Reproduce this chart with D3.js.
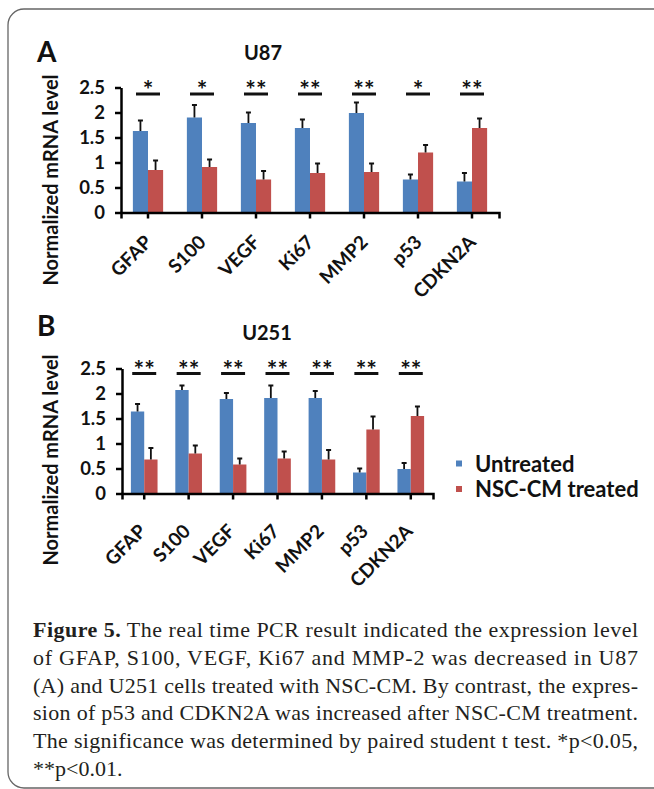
<!DOCTYPE html>
<html>
<head>
<meta charset="utf-8">
<script src="https://cdn.jsdelivr.net/npm/d3@7"></script>
<style>
  body { margin: 0; background: #fff; }
  svg { display: block; }
  .axis text { font-family: Lato, "Open Sans", sans-serif; font-weight: bold; fill: #111; }
</style>
</head>
<body>
<div id="chart"></div>
<script>
// genes on the x axis
const genes = ["GFAP", "S100", "VEGF", "Ki67", "MMP2", "p53", "CDKN2A"];
const series = ["Untreated", "NSC-CM treated"];
const colors = ["#4F81BD", "#C0504D"];
const yTicks = [0, 0.5, 1, 1.5, 2, 2.5];

// U87 (panel A)
const u87Untreated = [1.63, 1.90, 1.79, 1.69, 1.99, 0.66, 0.62];
const u87UntreatedErr = [0.21, 0.25, 0.21, 0.17, 0.21, 0.10, 0.17];
const u87Treated = [0.85, 0.91, 0.66, 0.79, 0.81, 1.20, 1.69];
const u87TreatedErr = [0.19, 0.15, 0.17, 0.19, 0.17, 0.15, 0.19];
const u87Sig = ["*", "*", "**", "**", "**", "*", "**"];

// U251 (panel B)
const u251Untreated = [1.64, 2.07, 1.89, 1.91, 1.91, 0.42, 0.49];
const u251UntreatedErr = [0.15, 0.09, 0.12, 0.25, 0.14, 0.08, 0.12];
const u251Treated = [0.68, 0.80, 0.58, 0.70, 0.68, 1.28, 1.55];
const u251TreatedErr = [0.23, 0.16, 0.12, 0.14, 0.19, 0.26, 0.19];
const u251Sig = ["**", "**", "**", "**", "**", "**", "**"];

const caption = [
  ["Figure 5.", " The real time PCR result indicated the expression level"],
  ["", "of GFAP, S100, VEGF, Ki67 and MMP-2 was decreased in U87"],
  ["", "(A) and U251 cells treated with NSC-CM. By contrast, the expres-"],
  ["", "sion of p53 and CDKN2A was increased after NSC-CM treatment."],
  ["", "The significance was determined by paired student t test. *p<0.05,"],
  ["", "**p<0.01."]
];

const W = 654, H = 789;
const svg = d3.select("#chart").append("svg").attr("width", W).attr("height", H);

// rounded frame round the figure
svg.append("rect")
  .attr("x", 8).attr("y", 9).attr("width", 700).attr("height", 779)
  .attr("rx", 16)
  .attr("fill", "none").attr("stroke", "#666").attr("stroke-width", 1.3);

function drawPanel(o) {
  const x = d3.scaleBand().domain(genes).range(o.xRange);
  const xs = d3.scaleBand().domain(series)
    .range([x.bandwidth() * o.inner[0], x.bandwidth() * o.inner[1]]);
  const y = d3.scaleLinear().domain([0, 2.5]).range(o.yRange);

  const g = svg.append("g");
  const rows = genes.map((gene, i) => ({
    gene,
    vals: [
      { s: series[0], v: o.untreated[i], e: o.untreatedErr[i] },
      { s: series[1], v: o.treated[i], e: o.treatedErr[i] }
    ],
    sig: o.sig[i]
  }));

  const grp = g.selectAll(".grp").data(rows).join("g")
    .attr("transform", d => `translate(${x(d.gene)},0)`);

  grp.selectAll("rect").data(d => d.vals).join("rect")
    .attr("x", d => xs(d.s))
    .attr("width", xs.bandwidth())
    .attr("y", d => y(d.v))
    .attr("height", d => y(0) - y(d.v))
    .attr("fill", (d, i) => colors[i]);

  // error bars (upper only)
  grp.selectAll("path.err").data(d => d.vals).join("path")
    .attr("class", "err")
    .attr("d", d => {
      const cx = xs(d.s) + xs.bandwidth() / 2;
      return `M${cx},${y(d.v)}V${y(d.v + d.e)}M${cx - 2.5},${y(d.v + d.e)}H${cx + 2.5}`;
    })
    .attr("stroke", "#111").attr("stroke-width", 1.8).attr("fill", "none");

  // significance marks
  const bw = x.bandwidth();
  grp.append("line")
    .attr("x1", bw / 2 - 12).attr("x2", bw / 2 + 12)
    .attr("y1", y(o.sigLevel)).attr("y2", y(o.sigLevel))
    .attr("stroke", "#111").attr("stroke-width", 3);
  grp.append("text")
    .attr("x", bw / 2).attr("y", y(o.sigLevel) + 5)
    .attr("text-anchor", "middle")
    .style("font", "bold 25px Lato, sans-serif").style("fill", "#111")
    .text(d => d.sig);

  // axes
  const yAxis = d3.axisLeft(y).tickValues(yTicks).tickFormat(d3.format(""))
    .tickSize(6).tickPadding(10).tickSizeOuter(0);
  const ya = g.append("g").attr("class", "axis")
    .attr("transform", `translate(${o.xRange[0]},0)`).call(yAxis);
  ya.select(".domain").attr("stroke-width", 2.5);
  ya.selectAll(".tick line").attr("stroke-width", 2.5);
  ya.selectAll("text").style("font-size", "18.5px");

  const xAxis = d3.axisBottom(x).tickSize(6).tickSizeOuter(6).tickFormat("");
  const xa = g.append("g").attr("class", "axis")
    .attr("transform", `translate(0,${y(0)})`).call(xAxis);
  xa.select(".domain").attr("stroke-width", 2.5);
  xa.selectAll(".tick line").attr("stroke-width", 2.5);

  g.selectAll(".xlab").data(genes).join("text")
    .attr("class", "xlab")
    .attr("transform", d => `translate(${x(d) + bw / 2 + o.labelDx},${y(0) + o.labelDy}) rotate(-45)`)
    .attr("text-anchor", "end")
    .style("font", "bold 19px Lato, sans-serif").style("fill", "#111")
    .text(d => d);

  // titles
  g.append("text").attr("x", 37).attr("y", o.letterY)
    .style("font", "bold 28px Lato, sans-serif").style("fill", "#111")
    .text(o.letter);
  g.append("text").attr("x", o.titleX).attr("y", o.titleY)
    .attr("text-anchor", "middle")
    .style("font", "bold 20px Lato, sans-serif").style("fill", "#111")
    .text(o.title);
  g.append("text")
    .attr("transform", `translate(58,${o.ylabY}) rotate(-90)`)
    .attr("text-anchor", "middle")
    .style("font", "bold 20px Lato, sans-serif").style("fill", "#111")
    .text("Normalized mRNA level");
}

drawPanel({
  letter: "A", letterY: 62, title: "U87", titleX: 263, titleY: 60,
  xRange: [121, 499], yRange: [212.5, 87.5], inner: [0.22, 0.78],
  untreated: u87Untreated, untreatedErr: u87UntreatedErr,
  treated: u87Treated, treatedErr: u87TreatedErr,
  sig: u87Sig, sigLevel: 2.37, labelDx: 5, labelDy: 31, ylabY: 180
});

drawPanel({
  letter: "B", letterY: 336, title: "U251", titleX: 267, titleY: 340,
  xRange: [122, 433], yRange: [493.5, 368.5], inner: [0.2, 0.8],
  untreated: u251Untreated, untreatedErr: u251UntreatedErr,
  treated: u251Treated, treatedErr: u251TreatedErr,
  sig: u251Sig, sigLevel: 2.4, labelDx: 3, labelDy: 39, ylabY: 460
});

// legend
const legend = svg.append("g").attr("transform", "translate(456,0)");
legend.selectAll("rect").data(series).join("rect")
  .attr("x", 0).attr("y", (d, i) => 460.5 + i * 25.5)
  .attr("width", 6).attr("height", 6)
  .attr("fill", (d, i) => colors[i]);
legend.selectAll("text").data(series).join("text")
  .attr("x", 19).attr("y", (d, i) => 471.5 + i * 25.5)
  .style("font", "bold 22px Lato, sans-serif").style("fill", "#111")
  .text(d => d);

// caption, justified like the journal layout
const cap = svg.append("g");
caption.forEach((line, i) => {
  const t = cap.append("text")
    .attr("x", 33).attr("y", 637 + i * 27.8)
    .style("font", "22px 'Liberation Serif', 'Times New Roman', serif")
    .style("fill", "#231f20");
  if (i < caption.length - 1) t.attr("textLength", 605).attr("lengthAdjust", "spacing");
  if (line[0]) t.append("tspan").style("font-weight", "bold").text(line[0]);
  t.append("tspan").text(line[1]);
});
</script>
</body>
</html>
